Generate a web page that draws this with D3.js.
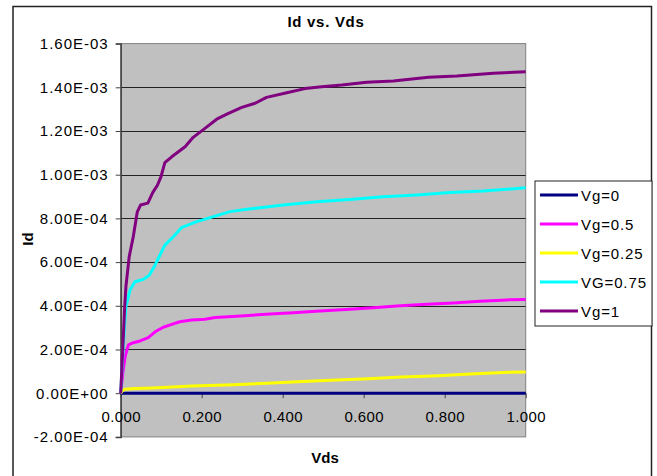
<!DOCTYPE html>
<html><head><meta charset="utf-8">
<script src="https://cdn.jsdelivr.net/npm/d3@7"></script>
<style>
body{margin:0;background:#fff;}
text{font-family:"Liberation Sans",Arial,sans-serif;fill:#000;}
</style></head><body>
<div id="chart"></div>
<script>
const seriesNames = ["Vg=0","Vg=0.5","Vg=0.25","VG=0.75","Vg=1"];
const seriesColors = ["#000080","#FF00FF","#FFFF00","#00FFFF","#800080"];
const xTicks = [0,0.2,0.4,0.6,0.8,1.0];
const xTickLabels = ["0.000","0.200","0.400","0.600","0.800","1.000"];
const yTicks = [-2e-4,0,2e-4,4e-4,6e-4,8e-4,1e-3,1.2e-3,1.4e-3,1.6e-3];
const yTickLabels = ["-2.00E-04","0.00E+00","2.00E-04","4.00E-04","6.00E-04","8.00E-04","1.00E-03","1.20E-03","1.40E-03","1.60E-03"];

const vg0 = [[0,0],[0.2,0],[0.4,0],[0.6,0],[0.8,0],[1.0,0]];
const vg025 = [[0,0],[0.005,1.2e-5],[0.01,1.8e-5],[0.035,2.1e-5],[0.08,2.4e-5],[0.175,3.3e-5],[0.28,3.9e-5],[0.36,4.5e-5],[0.45,5.3e-5],[0.533,6.0e-5],[0.611,6.6e-5],[0.694,7.4e-5],[0.784,8.0e-5],[0.863,8.8e-5],[0.957,9.6e-5],[1.0,9.7e-5]];
const vg05 = [[0,0],[0.005,9e-5],[0.011,1.67e-4],[0.019,2.21e-4],[0.031,2.31e-4],[0.048,2.39e-4],[0.068,2.54e-4],[0.085,2.81e-4],[0.105,3.02e-4],[0.126,3.15e-4],[0.146,3.27e-4],[0.175,3.35e-4],[0.208,3.38e-4],[0.233,3.46e-4],[0.266,3.5e-4],[0.315,3.56e-4],[0.369,3.62e-4],[0.426,3.68e-4],[0.492,3.76e-4],[0.566,3.84e-4],[0.624,3.91e-4],[0.681,3.99e-4],[0.756,4.07e-4],[0.821,4.13e-4],[0.887,4.21e-4],[0.953,4.27e-4],[1.0,4.29e-4]];
const vg075 = [[0,0],[0.006,2.0e-4],[0.01,3.2e-4],[0.013,3.96e-4],[0.023,4.72e-4],[0.035,5.1e-4],[0.056,5.21e-4],[0.071,5.41e-4],[0.085,5.87e-4],[0.101,6.48e-4],[0.109,6.78e-4],[0.13,7.16e-4],[0.151,7.59e-4],[0.188,7.85e-4],[0.229,8.08e-4],[0.27,8.31e-4],[0.311,8.42e-4],[0.344,8.49e-4],[0.401,8.61e-4],[0.484,8.76e-4],[0.566,8.87e-4],[0.648,8.99e-4],[0.731,9.07e-4],[0.813,9.18e-4],[0.895,9.25e-4],[1.0,9.4e-4]];
const vg1 = [[0,0],[0.005,2.0e-4],[0.01,4.0e-4],[0.013,4.9e-4],[0.021,6.25e-4],[0.031,7.16e-4],[0.041,8.3e-4],[0.049,8.61e-4],[0.067,8.7e-4],[0.079,9.18e-4],[0.091,9.53e-4],[0.0995,9.91e-4],[0.109,1.055e-3],[0.126,1.082e-3],[0.159,1.128e-3],[0.179,1.171e-3],[0.208,1.212e-3],[0.237,1.254e-3],[0.266,1.281e-3],[0.299,1.308e-3],[0.332,1.327e-3],[0.36,1.354e-3],[0.41,1.375e-3],[0.455,1.394e-3],[0.496,1.403e-3],[0.546,1.41e-3],[0.607,1.423e-3],[0.673,1.429e-3],[0.76,1.446e-3],[0.83,1.452e-3],[0.92,1.464e-3],[1.0,1.471e-3]];
const seriesData = [vg0,vg05,vg025,vg075,vg1];

const W=657,H=476;
const svg=d3.select("#chart").append("svg").attr("width",W).attr("height",H);
svg.append("rect").attr("x",0).attr("y",0).attr("width",W).attr("height",H).attr("fill","#fff");
// outer frame
svg.append("rect").attr("x",13).attr("y",6.5).attr("width",638.5).attr("height",480)
  .attr("fill","none").attr("stroke","#222").attr("stroke-width",1.5);

const x=d3.scaleLinear().domain([0,1]).range([120.7,525.7]);
const y=d3.scaleLinear().domain([-2e-4,1.6e-3]).range([436.9,43.6]);

// plot area
svg.append("rect").attr("x",x(0)).attr("y",y(1.6e-3)).attr("width",x(1)-x(0)).attr("height",y(-2e-4)-y(1.6e-3))
  .attr("fill","#C0C0C0").attr("stroke","#808080").attr("stroke-width",1);

// gridlines
svg.append("g").selectAll("line").data(yTicks.filter(d=>d>-2e-4&&d<1.6e-3)).join("line")
  .attr("x1",x(0)).attr("x2",x(1)).attr("y1",d=>Math.round(y(d))+0.5).attr("y2",d=>Math.round(y(d))+0.5)
  .attr("stroke","#222").attr("stroke-width",1);

// y axis
const yAxis=d3.axisLeft(y).tickValues(yTicks).tickFormat((d,i)=>yTickLabels[i]).tickSize(5).tickPadding(7);
const gy=svg.append("g").attr("transform",`translate(${x(0)},0)`).call(yAxis);
gy.select(".domain").attr("stroke","#444").attr("stroke-width",1.5);
gy.selectAll(".tick line").attr("stroke","#444");
gy.selectAll("text").attr("font-size","15px").attr("letter-spacing","1px").attr("fill","#000")
  .attr("font-family","'Liberation Sans',Arial,sans-serif");

// x axis at y=0
const xAxis=d3.axisBottom(x).tickValues(xTicks).tickFormat((d,i)=>xTickLabels[i]).tickSize(5).tickPadding(13);
const gx=svg.append("g").attr("transform",`translate(0,${y(0)})`).call(xAxis);
gx.select(".domain").remove();
gx.selectAll(".tick line").attr("stroke","#444");
gx.selectAll("text").attr("font-size","15px").attr("letter-spacing","0.4px").attr("fill","#000")
  .attr("font-family","'Liberation Sans',Arial,sans-serif");

// series
const line=d3.line().x(d=>x(d[0])).y(d=>y(d[1]));
svg.append("g").selectAll("path").data(seriesData).join("path")
  .attr("d",line).attr("fill","none").attr("stroke",(d,i)=>seriesColors[i])
  .attr("stroke-width",3).attr("stroke-linejoin","round");

// title and labels
svg.append("text").attr("x",326).attr("y",27).attr("text-anchor","middle")
  .attr("font-size","15px").attr("font-weight","bold").attr("letter-spacing","0.7px").text("Id vs. Vds");
svg.append("text").attr("x",325).attr("y",463).attr("text-anchor","middle")
  .attr("font-size","15px").attr("font-weight","bold").text("Vds");
svg.append("text").attr("transform","translate(33,239) rotate(-90)").attr("text-anchor","middle")
  .attr("font-size","15px").attr("font-weight","bold").text("Id");

// legend
const lg=svg.append("g");
lg.append("rect").attr("x",535).attr("y",181).attr("width",117).attr("height",145)
  .attr("fill","#fff").attr("stroke","#222").attr("stroke-width",1);
const items=lg.selectAll("g").data(seriesNames).join("g")
  .attr("transform",(d,i)=>`translate(0,${195+i*29})`);
items.append("line").attr("x1",540).attr("x2",578).attr("y1",0).attr("y2",0)
  .attr("stroke",(d,i)=>seriesColors[i]).attr("stroke-width",3);
items.append("text").attr("x",581).attr("y",5.5).attr("font-size","15px").attr("letter-spacing","0.9px").text(d=>d);
</script>
</body></html>
